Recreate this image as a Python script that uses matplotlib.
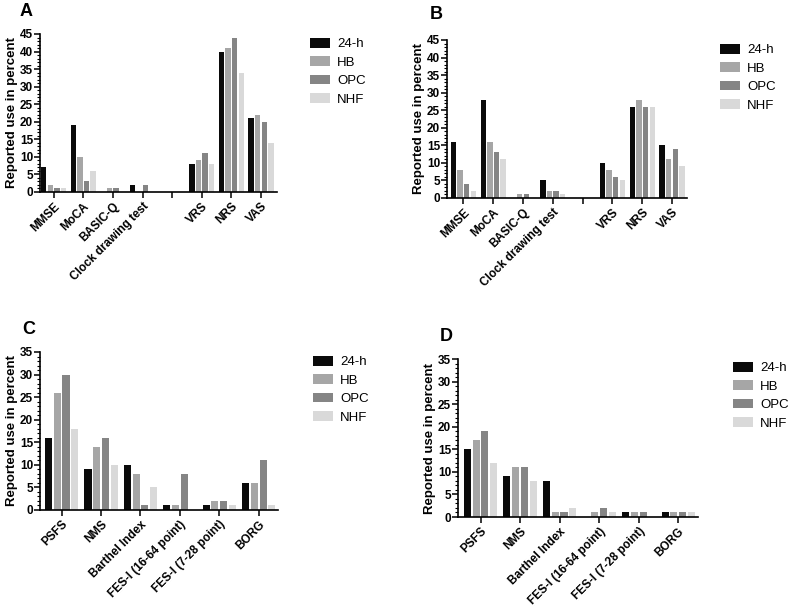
import matplotlib.pyplot as plt
import numpy as np
from matplotlib.patches import Patch
from matplotlib.ticker import MultipleLocator

plt.rcParams['font.family'] = ['Liberation Sans', 'DejaVu Sans']

series = ["24-h", "HB", "OPC", "NHF"]
colors = ["#0a0a0a", "#a6a6a6", "#858585", "#d9d9d9"]

# panels A and B: cognition / pain instruments ("" = empty gap slot)
cat_ab = ["MMSE", "MoCA", "BASIC-Q", "Clock drawing test", "", "VRS", "NRS", "VAS"]
a_24h = [7, 19, 0, 2, 0, 8, 40, 21]
a_hb = [2, 10, 1, 0, 0, 9, 41, 22]
a_opc = [1, 3, 1, 2, 0, 11, 44, 20]
a_nhf = [1, 6, 0, 0, 0, 8, 34, 14]

b_24h = [16, 28, 0, 5, 0, 10, 26, 15]
b_hb = [8, 16, 1, 2, 0, 8, 28, 11]
b_opc = [4, 13, 1, 2, 0, 6, 26, 14]
b_nhf = [2, 11, 0, 1, 0, 5, 26, 9]

# panels C and D: function instruments
cat_cd = ["PSFS", "NMS", "Barthel Index", "FES-I (16-64 point)", "FES-I (7-28 point)", "BORG"]
c_24h = [16, 9, 10, 1, 1, 6]
c_hb = [26, 14, 8, 1, 2, 6]
c_opc = [30, 16, 1, 8, 2, 11]
c_nhf = [18, 10, 5, 0, 1, 1]

d_24h = [15, 9, 8, 0, 1, 1]
d_hb = [17, 11, 1, 1, 1, 1]
d_opc = [19, 11, 1, 2, 1, 1]
d_nhf = [12, 8, 2, 1, 0, 1]

fig = plt.figure(figsize=(7.89, 6.07), dpi=100)
W, H = 789, 607


def px_axes(x0, x1, ytop, ybot):
    return fig.add_axes([x0 / W, 1 - ybot / H, (x1 - x0) / W, (ybot - ytop) / H])


def draw_panel(ax, cats, data, ymax, xlim):
    x = np.arange(len(cats))
    step, w = 0.222, 0.18
    for i, vals in enumerate(data):
        ax.bar(x + (i - 1.5) * step, vals, width=w, color=colors[i], linewidth=0)
    ax.set_xlim(*xlim)
    ax.set_ylim(0, ymax)
    ax.yaxis.set_major_locator(MultipleLocator(5))
    ax.yaxis.set_minor_locator(MultipleLocator(1))
    ax.set_xticks(x)
    ax.set_xticklabels(cats, rotation=45, ha='right', rotation_mode='anchor',
                       fontsize=8.5, fontweight='bold')
    for lab in ax.get_yticklabels():
        lab.set_fontsize(8.5)
        lab.set_fontweight('bold')
    ax.tick_params(axis='y', which='major', length=4, width=1.1, pad=1)
    ax.tick_params(axis='y', which='minor', length=2, width=0.8)
    ax.tick_params(axis='x', length=4, width=1.1, pad=2)
    for s in ['top', 'right']:
        ax.spines[s].set_visible(False)
    for s in ['left', 'bottom']:
        ax.spines[s].set_linewidth(1.2)
    ax.set_ylabel("Reported use in percent", fontsize=9.5, fontweight='bold', labelpad=1)


def add_legend(ax, x, ytop):
    handles = [Patch(facecolor=c, edgecolor='none') for c in colors]
    ax.legend(handles, series, loc='upper left', bbox_to_anchor=(x / W, 1 - ytop / H),
              bbox_transform=fig.transFigure, frameon=False, fontsize=9.5,
              handlelength=1.5, handleheight=0.75, handletextpad=0.55,
              labelspacing=0.45, borderpad=0, borderaxespad=0)


axA = px_axes(40, 277, 34, 192)
draw_panel(axA, cat_ab, [a_24h, a_hb, a_opc, a_nhf], 45, (-0.46, 7.54))
add_legend(axA, 310, 38)

axB = px_axes(447, 687, 40, 198)
draw_panel(axB, cat_ab, [b_24h, b_hb, b_opc, b_nhf], 45, (-0.55, 7.5))
add_legend(axB, 720, 44)

axC = px_axes(40, 278, 352, 510)
draw_panel(axC, cat_cd, [c_24h, c_hb, c_opc, c_nhf], 35, (-0.55, 5.49))
add_legend(axC, 313, 356)

axD = px_axes(458, 698, 359, 517)
draw_panel(axD, cat_cd, [d_24h, d_hb, d_opc, d_nhf], 35, (-0.57, 5.5))
add_legend(axD, 733, 362)

for lbl, x, y in [("A", 20, 3), ("B", 430, 6), ("C", 22, 321), ("D", 440, 328)]:
    fig.text(x / W, 1 - y / H, lbl, fontsize=13, fontweight='bold', va='top', ha='left')

fig.savefig("out.png", dpi=100)
